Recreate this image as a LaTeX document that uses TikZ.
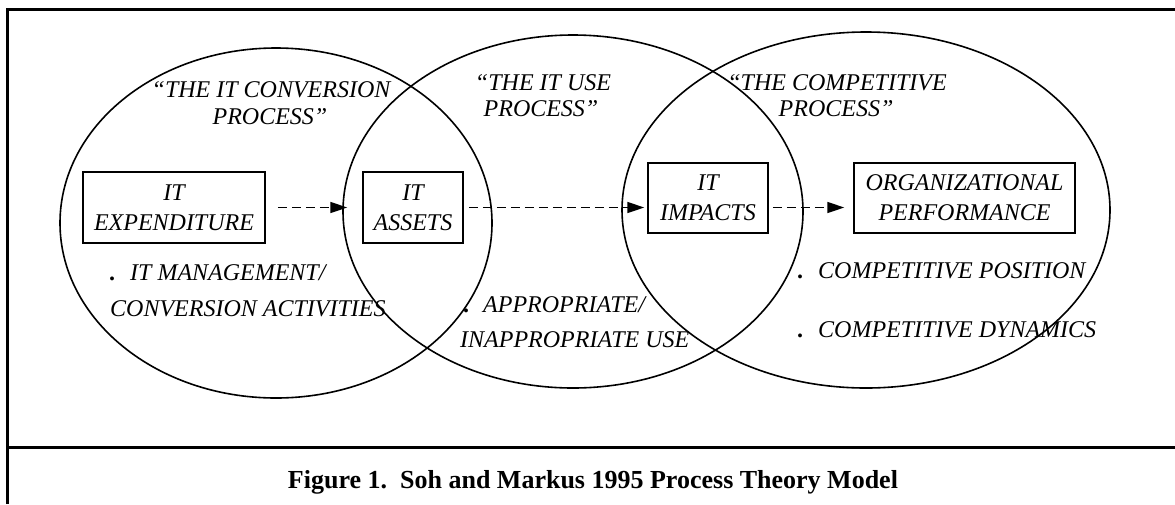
\documentclass[tikz,border=0pt]{standalone}
\usepackage{fontspec}
\setmainfont{Liberation Serif}
\usetikzlibrary{arrows.meta}
\begin{document}
\begin{tikzpicture}[x=1pt,y=-1pt,
  ring/.style={line width=1.6pt},
  framebar/.style={line width=3pt},
  procbox/.style={draw, line width=1.5pt, inner sep=0pt, align=center,
    font=\fontsize{24}{30}\selectfont\itshape},
  lbl/.style={inner sep=0pt, font=\fontsize{24}{29}\selectfont\itshape},
  flow/.style={dash pattern=on 9pt off 5pt, line width=1.5pt,
    -{Triangle[length=17pt,width=11pt]}}
]
\useasboundingbox (0,0) rectangle (1175,504);
\fill[white] (0,0) rectangle (1175,504);

% frame
\draw[framebar] (7,504) -- (7,9) -- (1175,9);
\draw[framebar] (7,447) -- (1175,447);

% process ellipses
\draw[ring] (276,223) ellipse [x radius=216pt, y radius=175pt];
\draw[ring] (573,211.5) ellipse [x radius=230pt, y radius=176.5pt];
\draw[ring] (866,210) ellipse [x radius=244pt, y radius=178pt];

% titles
\node[lbl, anchor=base] (t1a) at (271,97) {``THE IT CONVERSION};
\node[lbl, anchor=base] (t1b) at (270,124) {PROCESS''};
\node[lbl, anchor=base] (t2a) at (543,90) {``THE IT USE};
\node[lbl, anchor=base] (t2b) at (541,116) {PROCESS''};
\node[lbl, anchor=base] (t3a) at (837,90) {``THE COMPETITIVE};
\node[lbl, anchor=base] (t3b) at (836,116) {PROCESS''};

% boxes
\node[procbox, minimum width=182pt, minimum height=71pt] (exp) at (174,207.5) {IT\\EXPENDITURE};
\node[procbox, minimum width=100pt, minimum height=71pt] (assets) at (413,207.5) {IT\\ASSETS};
\node[procbox, minimum width=120pt, minimum height=70pt] (impacts) at (708,198) {IT\\IMPACTS};
\node[procbox, minimum width=221pt, minimum height=70pt] (org) at (964.5,198) {ORGANIZATIONAL\\PERFORMANCE};

% arrows
\draw[flow, shorten <=12pt, shorten >=15pt] (exp.east) -- (assets.west);
\draw[flow, shorten <=5pt, shorten >=3pt] (assets.east) -- (assets.east -| impacts.west);
\draw[flow, shorten <=4pt, shorten >=9pt] (impacts.east |- assets.east) -- (org.west |- assets.east);

% bullets
\node[lbl, anchor=base west] (b1a) at (109,280) {{\upshape\bfseries .}\hspace{15pt}IT MANAGEMENT/};
\node[lbl, anchor=base west] (b1b) at (110,316) {CONVERSION ACTIVITIES};
\node[lbl, anchor=base west] (b2a) at (463,312) {{\upshape\bfseries .}\hspace{14pt}APPROPRIATE/};
\node[lbl, anchor=base west] (b2b) at (460,347) {INAPPROPRIATE USE};
\node[lbl, anchor=base west] (b3a) at (797,278) {{\upshape\bfseries .}\hspace{15pt}COMPETITIVE POSITION};
\node[lbl, anchor=base west] (b3b) at (797,337) {{\upshape\bfseries .}\hspace{15pt}COMPETITIVE DYNAMICS};

% caption
\node[inner sep=0pt, anchor=base, font=\fontsize{26}{30}\selectfont\bfseries] (cap) at (593,488)
  {Figure 1.\ \ Soh and Markus 1995 Process Theory Model};
\end{tikzpicture}
\end{document}
